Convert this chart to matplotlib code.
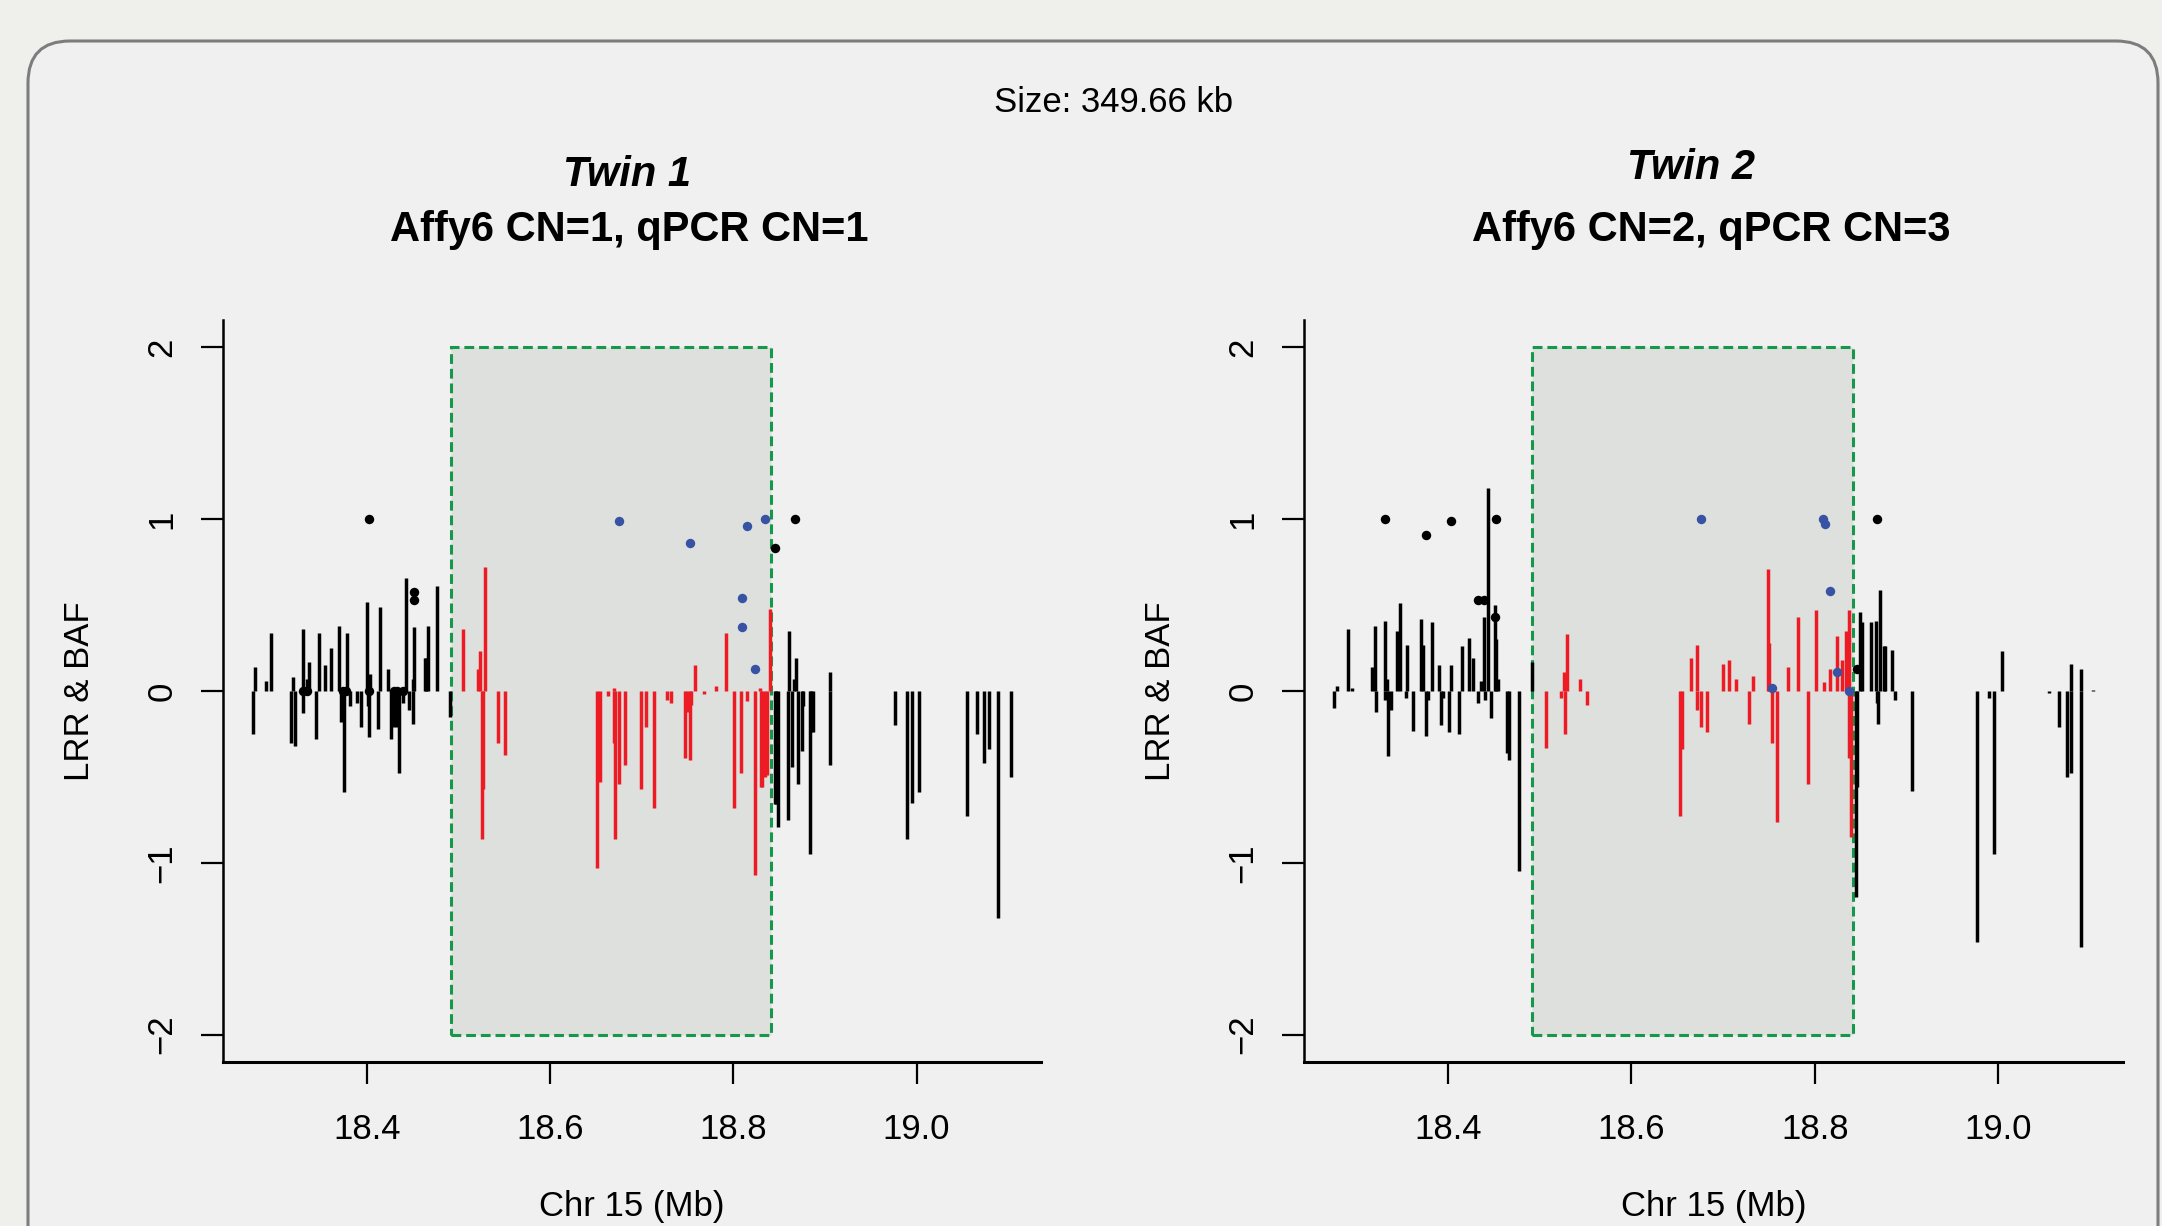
## Twin CNV plot: LRR (vertical lines) and BAF (dots) around chr15 region
import matplotlib
matplotlib.use('Agg')
import matplotlib.pyplot as plt
from matplotlib.patches import Rectangle, FancyBboxPatch
import numpy as np

plt.rcParams['font.family'] = ['Liberation Sans', 'DejaVu Sans']

# CNV region (Mb)
region_start = 18.4915
region_end = 18.8412

# Twin 1 - LRR per probe
twin1_pos = [18.2755, 18.2780, 18.2900, 18.2952, 18.3170, 18.3200, 18.3213, 18.3300, 18.3310, 18.3345,
             18.3370, 18.3450, 18.3475, 18.3548, 18.3606, 18.3697, 18.3715, 18.3755, 18.3788, 18.3820,
             18.3897, 18.3940, 18.4002, 18.4010, 18.4028, 18.4035, 18.4119, 18.4148, 18.4228, 18.4268,
             18.4297, 18.4326, 18.4351, 18.4398, 18.4431, 18.4464, 18.4500, 18.4505, 18.4511, 18.4635,
             18.4645, 18.4664, 18.4762, 18.4911,
             18.5053, 18.5213, 18.5234, 18.5253, 18.5274, 18.5292, 18.5434, 18.5507, 18.6518, 18.6547,
             18.6638, 18.6700, 18.6702, 18.6714, 18.6751, 18.6816, 18.6991, 18.7053, 18.7133, 18.7275,
             18.7318, 18.7475, 18.7500, 18.7526, 18.7540, 18.7580, 18.7680, 18.7813, 18.7918, 18.8009,
             18.8089, 18.8155, 18.8238, 18.8293, 18.8300, 18.8318, 18.8343, 18.8369, 18.8405,
             18.8452, 18.8470, 18.8493, 18.8600, 18.8610, 18.8646, 18.8664, 18.8690, 18.8707, 18.8747,
             18.8766, 18.8835, 18.8853, 18.8871, 18.9056, 18.9058, 18.9765, 18.9892, 18.9947, 19.0030,
             19.0547, 19.0656, 19.0740, 19.0791, 19.0893, 19.1028]
twin1_lrr = [-0.25, 0.14, 0.06, 0.34, -0.30, 0.08, -0.32, 0.36, -0.13, 0.07,
             0.17, -0.28, 0.34, 0.15, 0.25, 0.38, -0.18, -0.59, 0.34, -0.09,
             -0.07, -0.21, 0.52, -0.09, -0.27, 0.10, -0.22, 0.49, 0.13, -0.28,
             -0.21, -0.21, -0.48, -0.07, 0.66, -0.11, -0.19, 0.07, 0.37, 0.19,
             0.19, 0.38, 0.61, -0.15,
             0.36, 0.13, 0.23, -0.86, -0.57, 0.72, -0.30, -0.37, -1.03, -0.53,
             -0.03, -0.30, 0.02, -0.86, -0.54, -0.43, -0.57, -0.21, -0.68, -0.05,
             -0.07, -0.39, -0.12, -0.40, -0.08, 0.15, -0.02, 0.03, 0.34, -0.68,
             -0.48, -0.06, -1.07, 0.02, -0.56, -0.56, -0.50, -0.49, 0.48,
             -0.66, -0.66, -0.79, -0.75, 0.35, -0.44, 0.07, 0.19, -0.54, -0.35,
             -0.09, -0.95, -0.24, -0.24, -0.43, 0.11, -0.20, -0.86, -0.65, -0.59,
             -0.73, -0.25, -0.42, -0.34, -1.32, -0.50]
# Twin 1 - BAF
twin1_baf_pos = [18.3308, 18.3352, 18.3744, 18.3773, 18.4028, 18.4297, 18.4326, 18.4398, 18.4028,
                 18.4511, 18.4511, 18.6755, 18.7526, 18.8090, 18.8097, 18.8155, 18.8238, 18.8344,
                 18.8456, 18.8671]
twin1_baf = [0.0, 0.0, 0.0, 0.0, 0.0, 0.0, 0.0, 0.0, 1.0,
             0.575, 0.53, 0.99, 0.86, 0.37, 0.54, 0.96, 0.13, 1.0,
             0.83, 1.0]

# Twin 2 - LRR per probe
twin2_pos = [18.2759, 18.2788, 18.2908, 18.2958, 18.3173, 18.3210, 18.3217, 18.3315, 18.3320, 18.3335,
             18.3352, 18.3377, 18.3450, 18.3479, 18.3548, 18.3559, 18.3617, 18.3705, 18.3727, 18.3763,
             18.3788, 18.3828, 18.3901, 18.3922, 18.3951, 18.4017, 18.4035, 18.4126, 18.4155, 18.4231,
             18.4275, 18.4326, 18.4362, 18.4395, 18.4400, 18.4442, 18.4468, 18.4519, 18.4525, 18.4544,
             18.4642, 18.4668, 18.4773, 18.4912,
             18.5072, 18.5232, 18.5261, 18.5280, 18.5297, 18.5443, 18.5516, 18.6529, 18.6555, 18.6646,
             18.6715, 18.6718, 18.6762, 18.6820, 18.6998, 18.7060, 18.7140, 18.7282, 18.7325, 18.7492,
             18.7505, 18.7533, 18.7584, 18.7707, 18.7820, 18.7926, 18.8017, 18.8104, 18.8162, 18.8242,
             18.8296, 18.8336, 18.8369, 18.8372, 18.8394,
             18.8452, 18.8460, 18.8496, 18.8514, 18.8613, 18.8671, 18.8675, 18.8693, 18.8714, 18.8751,
             18.8769, 18.8842, 18.8875, 18.9063, 18.9770, 18.9899, 18.9954, 19.0038, 19.0551, 19.0660,
             19.0747, 19.0794, 19.0796, 19.0900, 19.0902, 19.1034]
twin2_lrr = [-0.10, 0.03, 0.36, 0.02, 0.14, 0.38, -0.12, 0.41, -0.05, 0.07,
             -0.38, -0.11, 0.35, 0.51, -0.04, 0.27, -0.23, 0.42, 0.27, -0.26,
             -0.05, 0.40, 0.15, -0.20, -0.04, -0.24, 0.15, -0.25, 0.26, 0.31,
             0.19, -0.07, 0.06, 0.43, -0.05, 1.18, -0.16, 0.50, 0.30, 0.07,
             -0.36, -0.40, -1.05, 0.17,
             -0.33, -0.04, 0.11, -0.25, 0.33, 0.07, -0.08, -0.73, -0.34, 0.19,
             0.27, -0.11, -0.21, -0.24, 0.16, 0.18, 0.07, -0.19, 0.09, 0.71,
             0.28, -0.30, -0.76, 0.14, 0.43, -0.54, 0.47, 0.05, 0.13, 0.32,
             0.18, 0.35, 0.47, -0.39, -0.85,
             -1.20, -0.56, 0.46, 0.40, 0.40, 0.41, -0.07, -0.19, 0.59, 0.26,
             0.26, 0.24, -0.05, -0.58, -1.46, -0.04, -0.95, 0.23, -0.01, -0.21,
             -0.50, 0.16, -0.48, 0.13, -1.49, 0.005]
# Twin 2 - BAF
twin2_baf_pos = [18.3319, 18.3763, 18.4035, 18.4326, 18.4399, 18.4519, 18.4522,
                 18.6758, 18.7533, 18.8093, 18.8107, 18.8162, 18.8245, 18.8372,
                 18.8459, 18.8678]
twin2_baf = [1.0, 0.91, 0.99, 0.53, 0.53, 0.43, 1.0,
             1.0, 0.02, 1.0, 0.97, 0.58, 0.11, 0.0,
             0.13, 1.0]

W, H = 2162, 1226

def fx(x):  # pixel -> figure fraction
    return x / W

def fy(y):
    return 1 - y / H

def drawPanel(ax, pos, lrr, baf_pos, baf):
    pos = np.array(pos); lrr = np.array(lrr)
    baf_pos = np.array(baf_pos); baf = np.array(baf)

    # shaded CNV region
    ax.add_patch(Rectangle((region_start, -2), region_end - region_start, 4,
                           facecolor='#dee0de', edgecolor='#16974a', lw=2.2,
                           linestyle=(0, (3.2, 1.6)), zorder=1))

    inside = (pos >= region_start) & (pos <= region_end)
    ax.vlines(pos[~inside], 0, lrr[~inside], colors='black', lw=2.5, zorder=2)
    ax.vlines(pos[inside], 0, lrr[inside], colors='#ed1c24', lw=2.5, zorder=2)

    b_in = (baf_pos >= region_start) & (baf_pos <= region_end)
    ax.plot(baf_pos[~b_in], baf[~b_in], 'o', color='black', ms=6.8, mew=0, zorder=3)
    ax.plot(baf_pos[b_in], baf[b_in], 'o', color='#3953a4', ms=6.8, mew=0, zorder=3)

    ax.set_xlim(18.2432, 19.1358)
    ax.set_ylim(-2.16, 2.16)
    ax.set_xticks([18.4, 18.6, 18.8, 19.0])
    ax.set_xticklabels(['18.4', '18.6', '18.8', '19.0'])
    ax.set_yticks([-2, -1, 0, 1, 2])
    ax.set_facecolor('none')
    for s in ['top', 'right']:
        ax.spines[s].set_visible(False)
    ax.spines['left'].set_linewidth(1.8)
    ax.spines['bottom'].set_linewidth(2.2)
    ax.tick_params(axis='both', length=16, width=1.6, labelsize=25, direction='out')
    ax.tick_params(axis='x', pad=21)
    ax.tick_params(axis='y', pad=16, labelrotation=90)
    for t in ax.get_yticklabels():
        t.set_va('center')

fig = plt.figure(figsize=(W / 100, H / 100), dpi=100)
fig.patch.set_facecolor('#efefeb')

# rounded frame behind everything
bg = fig.add_axes([0, 0, 1, 1], zorder=-1)
bg.set_xlim(0, W); bg.set_ylim(H, 0); bg.axis('off')
bg.add_patch(FancyBboxPatch((28, 41), 2158 - 28, 1400,
                            boxstyle='round,pad=0,rounding_size=42',
                            facecolor='#f0f0f0', edgecolor='#7d7d7d', lw=2.2))

ax1 = fig.add_axes([fx(223), fy(1062), fx(1041) - fx(223), fy(320) - fy(1062)])
ax2 = fig.add_axes([fx(1304), fy(1062), fx(2123) - fx(1304), fy(320) - fy(1062)])
drawPanel(ax1, twin1_pos, twin1_lrr, twin1_baf_pos, twin1_baf)
drawPanel(ax2, twin2_pos, twin2_lrr, twin2_baf_pos, twin2_baf)

# titles and labels (baseline anchored)
kw = dict(ha='center', va='baseline', rotation_mode='anchor')
fig.text(fx(1114), fy(112), 'Size: 349.66 kb', fontsize=25, **kw)
fig.text(fx(627), fy(186), 'Twin 1', fontsize=30, fontweight='bold', fontstyle='italic', **kw)
fig.text(fx(629), fy(241), 'Affy6 CN=1, qPCR CN=1', fontsize=30, fontweight='bold', **kw)
fig.text(fx(1691), fy(179), 'Twin 2', fontsize=30, fontweight='bold', fontstyle='italic', **kw)
fig.text(fx(1711), fy(241), 'Affy6 CN=2, qPCR CN=3', fontsize=30, fontweight='bold', **kw)

fig.text(fx(632), fy(1216), 'Chr 15 (Mb)', fontsize=25, **kw)
fig.text(fx(1714), fy(1216), 'Chr 15 (Mb)', fontsize=25, **kw)
fig.text(fx(89), fy(691), 'LRR & BAF', fontsize=25, rotation=90, **kw)
fig.text(fx(1170), fy(691), 'LRR & BAF', fontsize=25, rotation=90, **kw)

fig.savefig('out.png', dpi=100, facecolor=fig.get_facecolor())
plt.close()
